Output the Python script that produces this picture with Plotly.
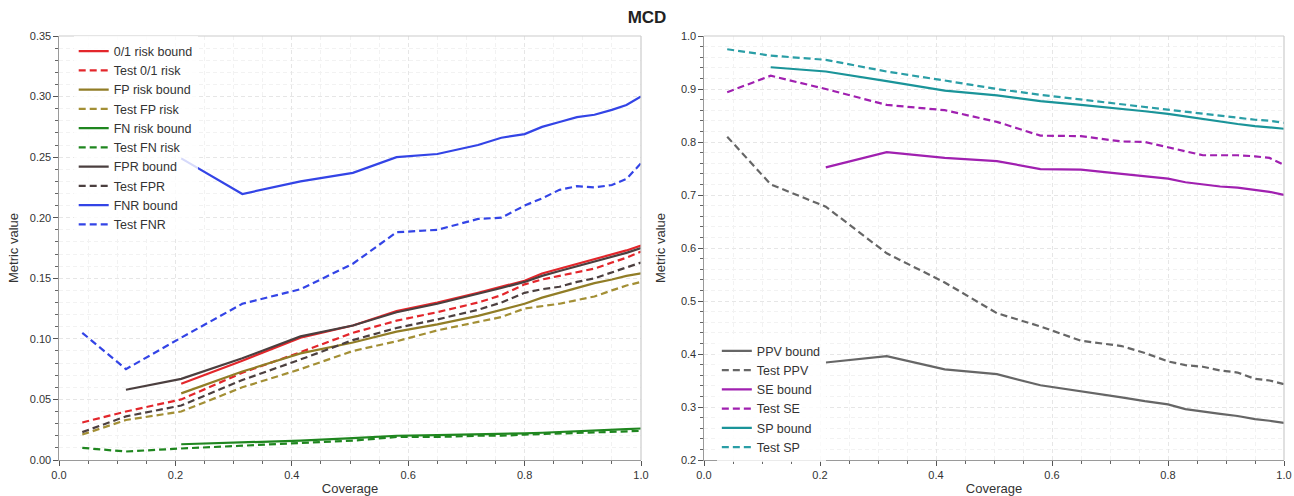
import plotly.graph_objects as go

coverage = [0.04, 0.115, 0.21, 0.315, 0.415, 0.505, 0.58, 0.65, 0.72, 0.76, 0.8, 0.83, 0.86, 0.89, 0.92, 0.95, 0.975, 1.0]

risk_bound = [None, None, 0.063, 0.082, 0.101, 0.111, 0.123, 0.130, 0.138, 0.143, 0.148, 0.154, 0.158, 0.162, 0.166, 0.170, 0.173, 0.177]
test_risk = [0.031, 0.040, 0.050, 0.072, 0.089, 0.105, 0.115, 0.122, 0.130, 0.136, 0.145, 0.149, 0.152, 0.155, 0.158, 0.163, 0.167, 0.172]
fp_bound = [None, None, 0.055, 0.073, 0.088, 0.097, 0.106, 0.112, 0.119, 0.124, 0.129, 0.134, 0.138, 0.142, 0.146, 0.149, 0.152, 0.154]
test_fp = [0.021, 0.033, 0.040, 0.060, 0.075, 0.090, 0.098, 0.107, 0.114, 0.118, 0.125, 0.127, 0.129, 0.132, 0.135, 0.140, 0.144, 0.147]
fn_bound = [None, None, 0.013, 0.0145, 0.016, 0.018, 0.020, 0.0205, 0.021, 0.0215, 0.022, 0.0225, 0.023, 0.024, 0.0245, 0.025, 0.0255, 0.026]
test_fn = [0.010, 0.007, 0.0095, 0.012, 0.014, 0.016, 0.019, 0.019, 0.020, 0.020, 0.021, 0.0215, 0.022, 0.022, 0.0225, 0.023, 0.0235, 0.024]
fpr_bound = [None, 0.058, 0.067, 0.084, 0.102, 0.111, 0.122, 0.129, 0.137, 0.142, 0.147, 0.152, 0.156, 0.160, 0.164, 0.168, 0.171, 0.175]
test_fpr = [0.023, 0.036, 0.045, 0.066, 0.083, 0.099, 0.109, 0.116, 0.124, 0.130, 0.138, 0.141, 0.143, 0.147, 0.150, 0.155, 0.159, 0.163]
fnr_bound = [None, None, 0.249, 0.2196, 0.230, 0.237, 0.250, 0.2526, 0.260, 0.266, 0.269, 0.275, 0.279, 0.283, 0.285, 0.289, 0.293, 0.300]
test_fnr = [0.105, 0.075, 0.101, 0.129, 0.141, 0.162, 0.188, 0.190, 0.199, 0.200, 0.210, 0.216, 0.223, 0.226, 0.225, 0.227, 0.232, 0.245]

ppv_bound = [None, None, 0.384, 0.396, 0.371, 0.362, 0.341, 0.330, 0.318, 0.311, 0.305, 0.296, 0.291, 0.287, 0.283, 0.277, 0.274, 0.270]
test_ppv = [0.810, 0.720, 0.678, 0.590, 0.535, 0.477, 0.452, 0.425, 0.415, 0.402, 0.386, 0.379, 0.376, 0.369, 0.365, 0.353, 0.350, 0.343]
se_bound = [None, None, 0.752, 0.781, 0.770, 0.764, 0.749, 0.748, 0.740, 0.735, 0.731, 0.724, 0.720, 0.716, 0.714, 0.710, 0.706, 0.700]
test_se = [0.894, 0.925, 0.900, 0.870, 0.860, 0.838, 0.812, 0.811, 0.801, 0.800, 0.790, 0.782, 0.775, 0.775, 0.775, 0.773, 0.770, 0.757]
sp_bound = [None, 0.941, 0.933, 0.915, 0.897, 0.888, 0.877, 0.870, 0.863, 0.858, 0.853, 0.848, 0.843, 0.838, 0.834, 0.830, 0.828, 0.825]
test_sp = [0.975, 0.963, 0.955, 0.933, 0.916, 0.900, 0.889, 0.880, 0.872, 0.867, 0.861, 0.857, 0.853, 0.850, 0.846, 0.842, 0.840, 0.836]

left_series = [
    ("0/1 risk bound", risk_bound, "#e3262b", "solid"),
    ("Test 0/1 risk", test_risk, "#e3262b", "dash"),
    ("FP risk bound", fp_bound, "#917d26", "solid"),
    ("Test FP risk", test_fp, "#a38f35", "dash"),
    ("FN risk bound", fn_bound, "#1f861f", "solid"),
    ("Test FN risk", test_fn, "#1f861f", "dash"),
    ("FPR bound", fpr_bound, "#4b3f3f", "solid"),
    ("Test FPR", test_fpr, "#4b3f3f", "dash"),
    ("FNR bound", fnr_bound, "#3344e6", "solid"),
    ("Test FNR", test_fnr, "#3344e6", "dash"),
]
right_series = [
    ("PPV bound", ppv_bound, "#666666", "solid"),
    ("Test PPV", test_ppv, "#666666", "dash"),
    ("SE bound", se_bound, "#a020b0", "solid"),
    ("Test SE", test_se, "#a020b0", "dash"),
    ("SP bound", sp_bound, "#1a9499", "solid"),
    ("Test SP", test_sp, "#2a9ea6", "dash"),
]

W, H = 1294, 496
ML, MR, MT, MB = 59, 10, 36, 36
PW = W - ML - MR
left_dom = [0, (641 - ML) / PW]
right_dom = [(704 - ML) / PW, 1]

fig = go.Figure()

def dash_of(d):
    return "solid" if d == "solid" else "7px,4px"

for name, vals, color, d in left_series:
    fig.add_trace(go.Scatter(x=coverage, y=vals, mode="lines", name=name, xaxis="x", yaxis="y",
                             line=dict(color=color, width=2.2, dash=dash_of(d)),
                             legend="legend"))
for name, vals, color, d in right_series:
    fig.add_trace(go.Scatter(x=coverage, y=vals, mode="lines", name=name, xaxis="x2", yaxis="y2",
                             line=dict(color=color, width=2.2, dash=dash_of(d)),
                             legend="legend2"))

font = "Liberation Sans, Arial, sans-serif"
tfont = dict(size=13, color="#333", family=font)
axis_common = dict(
    showline=True, linecolor="#9a9a9a", linewidth=1.2, mirror=False,
    ticks="outside", ticklen=4.5, tickcolor="#555", tickwidth=1,
    tickfont=dict(size=11, color="#333", family=font),
    showgrid=True, gridcolor="#e6e6e6", griddash="4px,3px", gridwidth=1,
    zeroline=False, automargin=False,
)
minor_x = dict(dtick=0.05, ticks="outside", ticklen=2.5, tickcolor="#666",
               showgrid=True, gridcolor="#f2f2f2", griddash="4px,3px")

fig.update_layout(
    xaxis=dict(domain=left_dom, anchor="y", range=[0, 1], dtick=0.2, tickformat=".1f",
               minor=minor_x, title=dict(text="Coverage", font=tfont, standoff=8), **axis_common),
    yaxis=dict(domain=[0, 1], anchor="x", range=[0, 0.35], dtick=0.05, tickformat=".2f",
               minor=dict(dtick=0.01, ticks="outside", ticklen=2.5, tickcolor="#666",
                          showgrid=True, gridcolor="#f2f2f2", griddash="4px,3px"),
               title=dict(text="Metric value", font=tfont, standoff=8), **axis_common),
    xaxis2=dict(domain=right_dom, anchor="y2", range=[0, 1], dtick=0.2, tickformat=".1f",
                minor=minor_x, title=dict(text="Coverage", font=tfont, standoff=8), **axis_common),
    yaxis2=dict(domain=[0, 1], anchor="x2", range=[0.2, 1.0], dtick=0.1, tickformat=".1f",
                minor=dict(dtick=0.02, ticks="outside", ticklen=2.5, tickcolor="#666",
                           showgrid=True, gridcolor="#f2f2f2", griddash="4px,3px"),
                title=dict(text="Metric value", font=tfont, standoff=12), **axis_common),
)

# light top/right spines
for xr, yr in (("x", "y"), ("x2", "y2")):
    fig.add_shape(type="line", xref=f"{xr} domain", yref=f"{yr} domain", x0=0, x1=1, y0=1, y1=1,
                  line=dict(color="#cccccc", width=1.2))
    fig.add_shape(type="line", xref=f"{xr} domain", yref=f"{yr} domain", x0=1, x1=1, y0=0, y1=1,
                  line=dict(color="#cccccc", width=1.2))

fig.update_layout(
    width=W, height=H,
    margin=dict(l=ML, r=MR, t=MT, b=MB, autoexpand=False),
    paper_bgcolor="white", plot_bgcolor="white",
    font=dict(family=font, color="#333"),
    title=dict(text="<b>MCD</b>", x=0.5, xanchor="center", y=0.978, yanchor="top",
               font=dict(size=17, color="#222", family=font)),
    legend=dict(x=0.012, y=0.999, xanchor="left", yanchor="top", bgcolor="rgba(255,255,255,0.8)",
                font=dict(size=12.5, color="#333", family=font), tracegroupgap=0),
    legend2=dict(x=0.537, y=0.292, xanchor="left", yanchor="top", bgcolor="rgba(255,255,255,0.8)",
                 font=dict(size=12.5, color="#333", family=font), tracegroupgap=0),
    showlegend=True,
)

fig.write_html("out.html")
